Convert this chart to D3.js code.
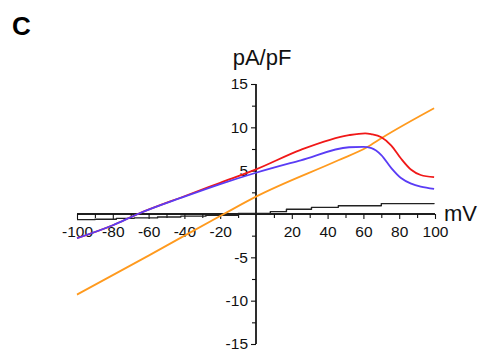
<!DOCTYPE html>
<html>
<head>
<meta charset="utf-8">
<script src="https://cdn.jsdelivr.net/npm/d3@7"></script>
<style>
  html, body { margin: 0; padding: 0; background: #fff; }
  svg { display: block; font-family: "Liberation Sans", Arial, sans-serif; }
</style>
</head>
<body>
<svg id="chart" width="480" height="358"></svg>
<script>
// Membrane potential (mV) and current density (pA/pF) for each trace
const redV   = [-100, -80, -66, -40, -20, 0, 25, 52, 61, 64.5, 70, 75.6, 81, 86.7, 92, 99.5];
const redI   = [-2.8, -1.3, 0, 2.05, 3.6, 5.15, 7.4, 9.1, 9.3, 9.2, 8.85, 7.9, 6.4, 5.1, 4.5, 4.25];

const blueV  = [-100, -80, -66, -40, -20, 0, 25, 52, 60, 64.5, 70, 75.6, 81, 86.7, 92, 99.5];
const blueI  = [-2.8, -1.3, 0, 2.0, 3.45, 4.76, 6.2, 7.7, 7.75, 7.6, 6.8, 5.3, 4.15, 3.5, 3.15, 2.9];

const orangeV = [-100, -60, -18, 0, 46, 62, 70.5, 99.5];
const orangeI = [-9.3, -4.8, 0, 2.0, 6.2, 7.7, 8.8, 12.2];

const blackV = [-100, -90, -78, -68, -55, -42, -28, -10, 8, 17, 31, 46, 70, 99.5];
const blackI = [-0.65, -0.6, -0.5, -0.45, -0.35, -0.25, -0.15, 0.05, 0.27, 0.54, 0.77, 0.95, 1.2, 1.25];

const xMajorTicks = [-100, -80, -60, -40, -20, 20, 40, 60, 80, 100];
const xMinorTicks = [-90, -70, -50, -30, -10, 10, 30, 50, 70, 90];
const yMajorTicks = [-15, -10, -5, 5, 10, 15];
const yMinorTicks = [-12.5, -7.5, -2.5, 2.5, 7.5, 12.5];

const svg = d3.select("#chart");

const x = d3.scaleLinear().domain([-100, 100]).range([77, 435]);
const y = d3.scaleLinear().domain([-15, 15]).range([344, 84]);

const plainNumber = d => String(d);

// Axes crossing at the origin
const xAxisG = svg.append("g").attr("transform", `translate(0,${y(0)})`);
xAxisG.call(d3.axisBottom(x).tickValues(xMinorTicks).tickSize(4).tickFormat(""));
xAxisG.call(g => g.append("g").call(d3.axisBottom(x).tickValues(xMajorTicks).tickSize(5).tickPadding(7)
  .tickFormat(plainNumber)));
xAxisG.selectAll(".domain").attr("d", `M${x(-100)},0H${x(100)}`);

const yAxisG = svg.append("g").attr("transform", `translate(${x(0)},0)`);
yAxisG.call(d3.axisLeft(y).tickValues(yMinorTicks).tickSize(4).tickFormat(""));
yAxisG.call(g => g.append("g").call(d3.axisLeft(y).tickValues(yMajorTicks).tickSize(5).tickPadding(3)
  .tickFormat(plainNumber)));
yAxisG.selectAll(".domain").attr("d", `M0,${y(15)}V${y(-15)}`);

svg.selectAll(".domain").attr("stroke", "#111").attr("stroke-width", 1.3);
svg.selectAll(".tick line").attr("stroke", "#111").attr("stroke-width", 1.1);
svg.selectAll(".tick text").attr("font-size", 15.5).attr("fill", "#111")
  .attr("font-family", "'Liberation Sans', Arial, sans-serif");

// Current traces
function trace(vs, is, color, curve, width) {
  const pts = vs.map((v, i) => [v, is[i]]);
  svg.append("path")
    .datum(pts)
    .attr("fill", "none")
    .attr("stroke", color)
    .attr("stroke-width", width)
    .attr("stroke-linejoin", "round")
    .attr("d", d3.line().x(d => x(d[0])).y(d => y(d[1])).curve(curve));
}

trace(blackV, blackI, "#222", d3.curveStepAfter, 1.4);
trace(orangeV, orangeI, "#ff9a1e", d3.curveMonotoneX, 1.8);
trace(redV, redI, "#f01818", d3.curveMonotoneX, 1.8);
trace(blueV, blueI, "#5a3cf5", d3.curveMonotoneX, 1.8);

// Axis titles and panel letter
svg.append("text").attr("x", 262).attr("y", 65).attr("text-anchor", "middle")
  .attr("font-size", 22).attr("fill", "#111").text("pA/pF");
svg.append("text").attr("x", 444).attr("y", 221).attr("text-anchor", "start")
  .attr("font-size", 22).attr("fill", "#111").text("mV");
svg.append("text").attr("x", 12).attr("y", 35).attr("font-size", 26)
  .attr("font-weight", "bold").attr("fill", "#000").text("C");
</script>
</body>
</html>
